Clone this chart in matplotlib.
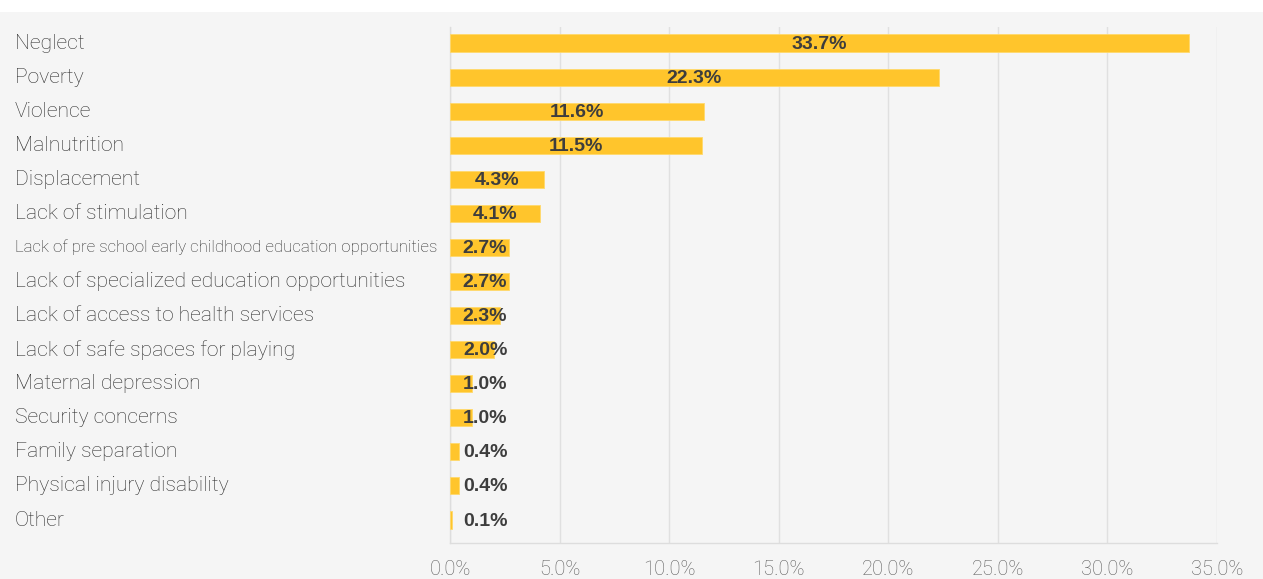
import matplotlib
matplotlib.use("Agg")
import matplotlib.pyplot as plt
from matplotlib.transforms import blended_transform_factory
from matplotlib.ticker import FuncFormatter, MultipleLocator

categories = ["Neglect", "Poverty", "Violence", "Malnutrition", "Displacement",
              "Lack of stimulation",
              "Lack of pre school early childhood education opportunities",
              "Lack of specialized education opportunities",
              "Lack of access to health services",
              "Lack of safe spaces for playing", "Maternal depression",
              "Security concerns", "Family separation",
              "Physical injury disability", "Other"]
values = [33.7, 22.3, 11.6, 11.5, 4.3, 4.1, 2.7, 2.7, 2.3, 2.0, 1.0, 1.0, 0.4, 0.4, 0.1]
value_labels = ["33.7%", "22.3%", "11.6%", "11.5%", "4.3%", "4.1%", "2.7%", "2.7%",
                "2.3%", "2.0%", "1.0%", "1.0%", "0.4%", "0.4%", "0.1%"]

W, H = 1263, 579
fig = plt.figure(figsize=(W/100, H/100), dpi=100)
fig.patch.set_facecolor("white")
bg = plt.Rectangle((0, 0), 1, (H-12)/H, transform=fig.transFigure,
                   facecolor="#f5f5f5", edgecolor="none", zorder=-10)
fig.patches.append(bg)

ax = fig.add_axes([450/W, (H-543)/H, (1217-450)/W, (543-27)/H])
ax.patch.set_alpha(0)

ypos = list(range(len(categories)))
ax.barh(ypos, values, height=0.5, color="#FFC52C", edgecolor="#FFD96B",
        linewidth=0.6, zorder=3)
ax.set_xlim(0, 35)
ax.set_ylim(14.675, -0.47)
ax.xaxis.set_major_locator(MultipleLocator(5))
ax.xaxis.set_major_formatter(FuncFormatter(lambda v, p: f"{v:.1f}%"))
ax.grid(axis="x", color="#e0e0e0", linewidth=1, zorder=0)
ax.set_axisbelow(True)
for s in ["top", "right"]:
    ax.spines[s].set_visible(False)
for s in ["left", "bottom"]:
    ax.spines[s].set_color("#dddddd")
    ax.spines[s].set_linewidth(1)
ax.set_yticks([])
ax.tick_params(axis="x", length=0, pad=12, labelsize=14.5, labelcolor="#5e5e5e")
for lab in ax.get_xticklabels():
    lab.set_fontfamily("Roboto")
    lab.set_fontweight("light")

trans = blended_transform_factory(fig.transFigure, ax.transData)
for i, c in enumerate(categories):
    fs = 12.2 if i == 6 else 15.2
    ax.text(15/W, i, c, transform=trans, ha="left", va="center",
            fontsize=fs, color="#2e2e2e", family="Roboto", fontweight="light")

for i, (v, lab) in enumerate(zip(values, value_labels)):
    x = max(v/2, 1.6)
    ax.text(x, i + 0.03, lab, ha="center", va="center", fontsize=14,
            fontweight="bold", color="#3d3d3d", family="Liberation Sans", zorder=4)

fig.savefig("out.png", dpi=100, facecolor=fig.get_facecolor())
